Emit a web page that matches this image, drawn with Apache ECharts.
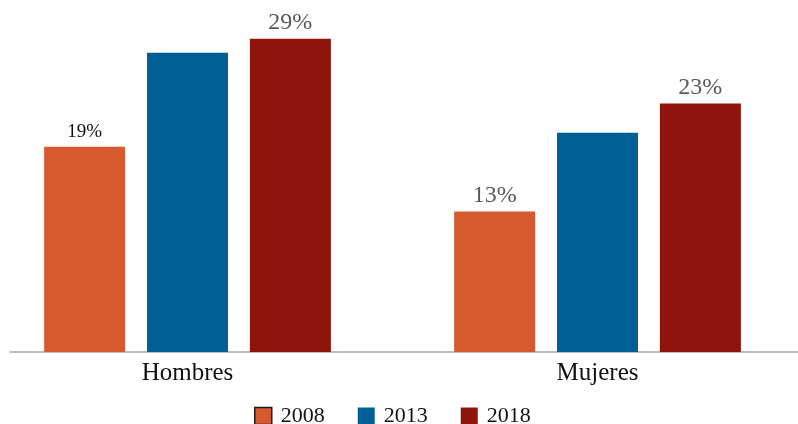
<!DOCTYPE html>
<html>
<head>
<meta charset="utf-8">
<style>
  html, body { margin: 0; padding: 0; background: #ffffff; }
  #chart { width: 798px; height: 424px; }
</style>
<script src="https://cdn.jsdelivr.net/npm/echarts@6/dist/echarts.min.js"></script>
</head>
<body>
<div id="chart"></div>
<script>
// Share of population by sex, three survey years
const categories = ['Hombres', 'Mujeres'];
const years = ['2008', '2013', '2018'];
const values2008 = [19, 13];
const values2013 = [27.7, 20.3];
const values2018 = [29, 23];

const colors = ['#D65A2E', '#005F94', '#8E140C'];
const FONT = '"Liberation Serif", "DejaVu Serif", serif';

const greyLabel = { show: true, position: 'top', distance: 4, color: '#595959', fontSize: 24, fontFamily: FONT, formatter: p => p.value + '%' };
const blackLabel = { show: true, position: 'top', distance: 5, color: '#111111', fontSize: 19, fontFamily: FONT, formatter: p => p.value + '%' };

function seriesFor(idx, values, labelFor) {
  return {
    name: years[idx],
    type: 'bar',
    xAxisIndex: 0,
    yAxisIndex: 0,
    barWidth: 81,
    barGap: '27%',
    itemStyle: { color: colors[idx] },
    data: values.map((v, i) => {
      const lab = labelFor ? labelFor(i) : null;
      return lab ? { value: v, label: lab } : { value: v };
    })
  };
}

const chart = echarts.init(document.getElementById('chart'), null, { renderer: 'canvas' });
chart.setOption({
  animation: false,
  backgroundColor: '#ffffff',
  color: colors,
  grid: [
    // category points sit on the grid edges (boundaryGap false)
    { left: 187.5, right: 200.5, top: 28, bottom: 72, containLabel: false },
    // full-width baseline
    { left: 10, right: 0, top: 28, bottom: 72, containLabel: false }
  ],
  xAxis: [
    {
      type: 'category',
      gridIndex: 0,
      boundaryGap: false,
      data: categories,
      axisLine: { show: false },
      axisTick: { show: false },
      splitLine: { show: false },
      axisLabel: { color: '#111111', fontSize: 25, fontFamily: FONT, margin: 9 }
    },
    {
      type: 'value',
      gridIndex: 1,
      min: 0,
      max: 1,
      axisLine: { show: true, lineStyle: { color: '#a6a6a6', width: 1.5 } },
      axisTick: { show: false },
      axisLabel: { show: false },
      splitLine: { show: false }
    }
  ],
  yAxis: [
    { type: 'value', gridIndex: 0, min: 0, max: 30, show: false, splitLine: { show: false } },
    { type: 'value', gridIndex: 1, min: 0, max: 1, show: false, splitLine: { show: false } }
  ],
  legend: {
    left: 249,
    top: 400,
    itemWidth: 17,
    itemHeight: 17,
    itemGap: 33,
    icon: 'rect',
    textStyle: { color: '#111111', fontSize: 22, fontFamily: FONT, padding: [0, 0, 0, 4] },
    data: [
      { name: years[0], itemStyle: { borderColor: '#1a1a1a', borderWidth: 1.5 } },
      { name: years[1] },
      { name: years[2] }
    ]
  },
  series: [
    seriesFor(0, values2008, i => (i === 0 ? blackLabel : greyLabel)),
    seriesFor(1, values2013, null),
    seriesFor(2, values2018, () => greyLabel)
  ]
});
</script>
</body>
</html>
